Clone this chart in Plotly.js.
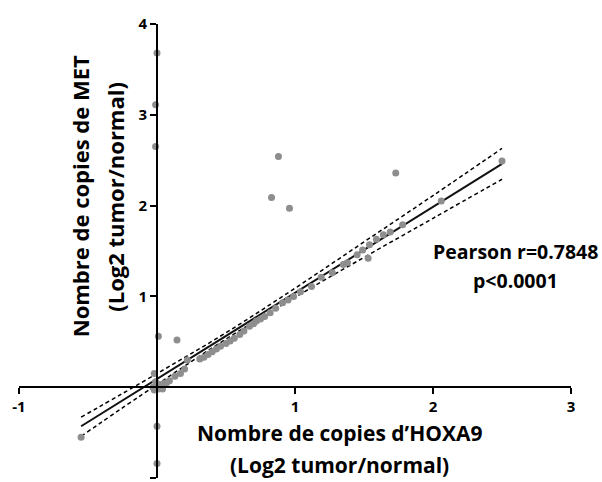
<!DOCTYPE html>
<html><head><meta charset="utf-8">
<script src="https://cdn.plot.ly/plotly-3.0.1.min.js"></script>
<style>body{margin:0;background:#fff}#c{width:602px;height:482px}</style>
</head><body><div id="c"></div>
<script>
// Data
const hoxa9 = [0.0,-0.01,-0.01,0.01,0.145,0.0,0.0,-0.55,-0.02,0.88,0.83,0.96,1.73,2.5,2.06,1.78,1.53,
  -0.03,-0.02,0.0,0.01,0.02,0.03,0.05,0.07,0.09,-0.01,0.04,
  0.13,0.17,0.2,0.22,0.31,0.34,0.37,0.40,0.43,0.46,0.5,0.53,0.56,0.6,0.63,0.67,0.70,0.72,0.75,0.78,0.82,0.86,0.91,0.95,0.99,1.04,1.12,1.19,1.27,1.35,1.38,1.45,1.49,1.54,1.59,1.64,1.69];
const met = [3.68,3.11,2.65,0.56,0.52,-0.43,-0.84,-0.55,0.15,2.54,2.09,1.97,2.36,2.49,2.05,1.79,1.42,
  0.0,-0.03,0.02,-0.02,0.03,0.0,0.04,0.05,0.07,0.06,-0.02,
  0.12,0.15,0.2,0.30,0.31,0.33,0.36,0.39,0.42,0.45,0.48,0.51,0.54,0.58,0.62,0.67,0.70,0.73,0.75,0.78,0.82,0.87,0.93,0.96,1.0,1.05,1.11,1.21,1.26,1.35,1.37,1.46,1.51,1.57,1.63,1.68,1.71];
const fitX = [-0.55, 2.5];
const fitY = [-0.43, 2.46];
const bandX = [-0.55, 0, 0.5, 1, 1.5, 2, 2.5];
const bandUpper = [-0.33, 0.15, 0.60, 1.09, 1.60, 2.11, 2.63];
const bandLower = [-0.54, 0.03, 0.53, 0.99, 1.43, 1.86, 2.29];
const xTicks = [-1, 1, 2, 3];
const yTicks = [-1, 1, 2, 3, 4];
const xTitle = ["Nombre de copies d’HOXA9", "(Log2 tumor/normal)"];
const yTitle = ["Nombre de copies de MET", "(Log2 tumor/normal)"];
const statText = ["Pearson r=0.7848", "p<0.0001"];

const F = "'Open Sans', 'Noto Sans', sans-serif";
const bold = v => '<b>' + v + '</b>';
const traces = [
  {x: bandX, y: bandUpper, mode: 'lines', line: {color: '#000', width: 1.5, dash: '4px,3px', shape: 'spline'}, hoverinfo: 'skip'},
  {x: bandX, y: bandLower, mode: 'lines', line: {color: '#000', width: 1.5, dash: '4px,3px', shape: 'spline'}, hoverinfo: 'skip'},
  {x: fitX, y: fitY, mode: 'lines', line: {color: '#111', width: 2}},
  {x: hoxa9, y: met, mode: 'markers', marker: {color: '#8e8e8e', size: 7}, cliponaxis: false}
];
const layout = {
  width: 602, height: 482, showlegend: false,
  paper_bgcolor: '#fff', plot_bgcolor: '#fff',
  margin: {l: 19, r: 31, t: 24, b: 4},
  font: {family: F, color: '#000'},
  xaxis: {range: [-1, 3], anchor: 'free', position: 0.2, showline: true, linecolor: '#000', linewidth: 2,
    ticks: 'outside', ticklen: 6, tickwidth: 2, tickcolor: '#000', tickvals: xTicks, ticktext: xTicks.map(bold),
    ticklabelstandoff: 0, showgrid: false, zeroline: false, tickfont: {size: 15, family: F, weight: 'bold'}},
  yaxis: {range: [-1, 4], anchor: 'free', position: 0.25, showline: true, linecolor: '#000', linewidth: 2,
    ticks: 'outside', ticklen: 6, tickwidth: 2, tickcolor: '#000', tickvals: yTicks, ticktext: yTicks.map(bold),
    ticklabelstandoff: 0, showgrid: false, zeroline: false, tickfont: {size: 15, family: F, weight: 'bold'}},
  annotations: [
    {x: 1.32, y: -0.5, text: bold(xTitle[0]), showarrow: false, font: {size: 21}},
    {x: 1.32, y: -0.86, text: bold(xTitle[1]), showarrow: false, font: {size: 21}},
    {x: -0.56, y: 2.1, text: bold(yTitle[0]), textangle: -90, showarrow: false, font: {size: 22}},
    {x: -0.31, y: 2.1, text: bold(yTitle[1]), textangle: -90, showarrow: false, font: {size: 22}},
    {x: 2.6, y: 1.49, text: bold(statText[0]), showarrow: false, font: {size: 19.5}},
    {x: 2.6, y: 1.17, text: bold(statText[1]), showarrow: false, font: {size: 19.5}}
  ]
};
Plotly.newPlot('c', traces, layout, {displayModeBar: false, staticPlot: true});
</script></body></html>
